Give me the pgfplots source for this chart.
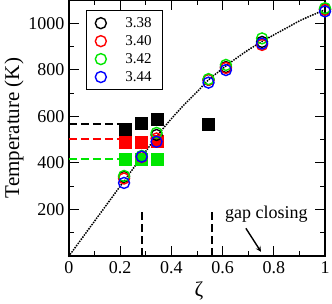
\documentclass[border=0pt]{standalone}
\usepackage{fontspec}
\setmainfont{Liberation Serif}
\usepackage{pgfplots}
\pgfplotsset{compat=1.18}
\definecolor{cgreen}{RGB}{0,230,0}
\begin{document}
\begin{tikzpicture}
\useasboundingbox (-69pt,-47pt) rectangle (263pt,256pt);
\begin{axis}[
  scale only axis, width=256pt, height=256pt,
  xmin=0, xmax=1, ymin=0, ymax=1100,
  xtick={0,0.2,0.4,0.6,0.8,1}, xticklabels={0,0.2,0.4,0.6,0.8,1},
  minor xtick={0.1,0.3,0.5,0.7,0.9},
  ytick={200,400,600,800,1000}, yticklabels={200,400,600,800,1000},
  minor ytick={100,300,500,700,900},
  tick align=inside, major tick length=10pt, minor tick length=5pt,
  every tick/.style={black, line width=0.9pt},
  axis line style={line width=1.1pt},
  tick label style={font=\rmfamily\fontsize{18}{18}\selectfont},
  xticklabel style={yshift=-2pt},
  yticklabel style={xshift=-1pt},
  xlabel={ζ}, ylabel={Temperature (K)},
  xlabel style={font=\rmfamily\fontsize{21}{21}\selectfont, at={(axis description cs:0.508,0)}, anchor=center, yshift=-35pt},
  ylabel style={font=\rmfamily\fontsize{21}{21}\selectfont, at={(axis description cs:-0.215,0.5)}, anchor=center},
  legend style={at={(axis description cs:0.066,0.961)}, anchor=north west,
    font=\rmfamily\fontsize{15}{15}\selectfont, draw=black, line width=0.9pt,
    inner xsep=9pt, inner ysep=5pt, row sep=2.5pt,
    /tikz/every odd column/.append style={column sep=17pt}},
  legend cell align=left,
  legend image code/.code={\draw[#1] plot[mark=o] coordinates {(0.25cm,0cm)};},
  clip=false,
]
% dashed horizontal lines
\addplot[black, line width=1.8pt, dash pattern=on 8pt off 4pt, forget plot] coordinates {(0,568) (0.2,568)};
\addplot[red, line width=1.8pt, dash pattern=on 8pt off 4pt, forget plot] coordinates {(0,502) (0.2,502)};
\addplot[cgreen, line width=1.8pt, dash pattern=on 8pt off 4pt, forget plot] coordinates {(0,416) (0.2,416)};
% vertical dashed lines
\addplot[black, line width=1.8pt, dash pattern=on 8pt off 4pt, forget plot] coordinates {(0.284,0) (0.284,198)};
\addplot[black, line width=1.8pt, dash pattern=on 8pt off 4pt, forget plot] coordinates {(0.559,0) (0.559,198)};
% squares
\addplot[only marks, mark=square*, mark size=6pt, black, forget plot] coordinates {(0.219,545) (0.281,571) (0.345,588) (0.544,568)};
\addplot[only marks, mark=square*, mark size=6pt, red, forget plot] coordinates {(0.219,490) (0.281,490) (0.345,492)};
\addplot[only marks, mark=square*, mark size=6pt, cgreen, forget plot] coordinates {(0.219,416) (0.281,416) (0.345,416)};
% circles
\addplot[only marks, mark=o, mark size=5.5pt, line width=1.4pt, black] coordinates {(0.215,340) (0.284,428) (0.342,520) (0.545,757) (0.613,812) (0.754,920) (1.0,1060)};
\addlegendentry{3.38}
\addplot[only marks, mark=o, mark size=5.5pt, line width=1.4pt, red] coordinates {(0.215,333) (0.284,425) (0.342,505) (0.545,757) (0.613,808) (0.754,907) (1.0,1058)};
\addlegendentry{3.40}
\addplot[only marks, mark=o, mark size=5.5pt, line width=1.4pt, cgreen] coordinates {(0.215,344) (0.284,430) (0.342,529) (0.545,760) (0.613,821) (0.754,935) (1.0,1065)};
\addlegendentry{3.42}
\addplot[only marks, mark=o, mark size=5.5pt, line width=1.4pt, blue] coordinates {(0.215,314) (0.284,427) (0.342,491) (0.545,745) (0.613,799) (0.754,913) (1.0,1051)};
\addlegendentry{3.44}
% dotted fit line
\addplot[black, line width=2.1pt, line cap=round, dash pattern=on 0pt off 2.6pt, smooth, forget plot] coordinates {
(0,0) (0.05,75) (0.1,150) (0.15,225) (0.2,300) (0.25,375) (0.3,450) (0.342,513) (0.4,590) (0.45,650) (0.5,705) (0.545,757) (0.6,805) (0.65,847) (0.7,885) (0.754,922) (0.8,950) (0.85,980) (0.9,1010) (0.95,1035) (1.0,1058)};
% annotation
\node[anchor=base, font=\rmfamily\fontsize{18}{18}\selectfont] at (axis cs:0.771,163) {gap closing};
\draw[-stealth, line width=1.4pt] (axis cs:0.691,119) -- (axis cs:0.75,18);
\end{axis}
\end{tikzpicture}
\end{document}
